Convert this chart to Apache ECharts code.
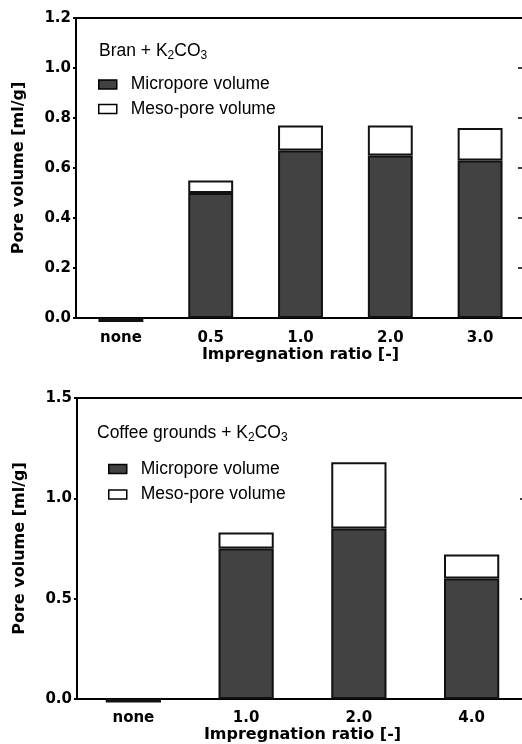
<!DOCTYPE html>
<html>
<head>
<meta charset="utf-8">
<script src="https://cdn.jsdelivr.net/npm/echarts@6/dist/echarts.min.js"></script>
<style>
html,body{margin:0;padding:0;background:#fff;overflow:hidden;}
#c{width:534px;height:744px;}
</style>
</head>
<body>
<div id="c"></div>
<script>
// ---- data ----
const catsTop = ['none', '0.5', '1.0', '2.0', '3.0'];
const microTop = [-0.016, 0.50, 0.67, 0.65, 0.63];
const mesoTop = [null, 0.05, 0.10, 0.12, 0.13];
const yTop = { min: 0, max: 1.2, interval: 0.2 };

const catsBot = ['none', '1.0', '2.0', '4.0'];
const microBot = [-0.018, 0.75, 0.85, 0.60];
const mesoBot = [null, 0.08, 0.33, 0.12];
const yBot = { min: 0, max: 1.5, interval: 0.5 };

const seriesNames = ['Micropore volume', 'Meso-pore volume'];
const xTitle = 'Impregnation ratio [-]';
const yTitle = 'Pore volume [ml/g]';

// ---- styles ----
const BOLD = 'DejaVu Sans';
const REG = 'Liberation Sans';
const DARK = '#424242';
const axisLine = { show: true, lineStyle: { color: '#000', width: 2 } };

function xAxisFor(g, cats, gap, margin) {
  return {
    type: 'category', gridIndex: g, data: cats, position: 'bottom',
    axisLine: axisLine, axisTick: { show: false },
    axisLabel: { color: '#000', fontFamily: BOLD, fontWeight: 'bold', fontSize: 15, margin: margin },
    name: xTitle, nameLocation: 'middle', nameGap: gap,
    nameTextStyle: { color: '#000', fontFamily: BOLD, fontWeight: 'bold', fontSize: 16 }
  };
}
function yAxisLeft(g, y) {
  return {
    type: 'value', gridIndex: g, position: 'left', min: y.min, max: y.max, interval: y.interval,
    axisLine: axisLine, axisTick: { show: true, length: 3, lineStyle: { color: '#000', width: 2 } },
    splitLine: { show: false },
    axisLabel: { color: '#000', fontFamily: BOLD, fontWeight: 'bold', fontSize: 15, margin: 5,
      formatter: v => v.toFixed(1) },
    name: yTitle, nameLocation: 'middle', nameGap: 49, nameRotate: 90,
    nameTextStyle: { color: '#000', fontFamily: BOLD, fontWeight: 'bold', fontSize: 16 }
  };
}
function yAxisRight(g, y, len) {
  return {
    type: 'value', gridIndex: g, position: 'right', min: y.min, max: y.max, interval: y.interval,
    axisLine: axisLine, axisTick: { show: true, inside: true, length: len, lineStyle: { color: '#000', width: 1.5 } },
    splitLine: { show: false }, axisLabel: { show: false }
  };
}
function bars(xi, yi, micro, meso, w, stackId) {
  return [
    { name: seriesNames[0], type: 'bar', xAxisIndex: xi, yAxisIndex: yi, stack: stackId, data: micro,
      barWidth: w, clip: false,
      itemStyle: { color: DARK, borderColor: '#111', borderWidth: 2 } },
    { name: seriesNames[1], type: 'bar', xAxisIndex: xi, yAxisIndex: yi, stack: stackId, data: meso,
      barWidth: w, clip: false,
      itemStyle: { color: '#fff', borderColor: '#111', borderWidth: 2 } }
  ];
}
function legendAt(left, top, gap) {
  return {
    orient: 'vertical', left: left, top: top, padding: 0, itemGap: gap,
    itemWidth: 18, itemHeight: 9, selectedMode: false, icon: 'rect',
    textStyle: { color: '#000', fontFamily: REG, fontSize: 17.5, lineHeight: 14, padding: [0, 0, 0, 9] },
    data: [
      { name: seriesNames[0], itemStyle: { color: DARK, borderColor: '#000', borderWidth: 1.5 } },
      { name: seriesNames[1], itemStyle: { color: '#fff', borderColor: '#000', borderWidth: 1.5 } }
    ]
  };
}
const rich = {
  a: { fontFamily: REG, fontWeight: 'normal', fontSize: 17.5, color: '#000' },
  s: { fontFamily: REG, fontWeight: 'normal', fontSize: 12, color: '#000', padding: [9, 0, 0, 0] }
};

const chart = echarts.init(document.getElementById('c'), null, { renderer: 'canvas' });
chart.setOption({
  backgroundColor: '#fff',
  animation: false,
  title: [
    { text: '{a|Bran + K}{s|2}{a|CO}{s|3}', left: 99, top: 41, padding: 0, textStyle: { fontWeight: 'normal', rich: rich } },
    { text: '{a|Coffee grounds + K}{s|2}{a|CO}{s|3}', left: 97, top: 423, padding: 0, textStyle: { fontWeight: 'normal', rich: rich } }
  ],
  legend: [legendAt(98, 75.5, 6.5), legendAt(108, 460, 7.6)],
  grid: [
    { left: 76, top: 18, width: 449, height: 300, show: true, borderColor: '#000', borderWidth: 2 },
    { left: 77, top: 398, width: 451, height: 301, show: true, borderColor: '#000', borderWidth: 2 }
  ],
  xAxis: [xAxisFor(0, catsTop, 29, 13), xAxisFor(1, catsBot, 28, 12)],
  yAxis: [yAxisLeft(0, yTop), yAxisRight(0, yTop, 7), yAxisLeft(1, yBot), yAxisRight(1, yBot, 8)],
  series: [].concat(bars(0, 0, microTop, mesoTop, '50%', 'top'), bars(1, 2, microBot, mesoBot, '49%', 'bot'))
});
</script>
</body>
</html>
